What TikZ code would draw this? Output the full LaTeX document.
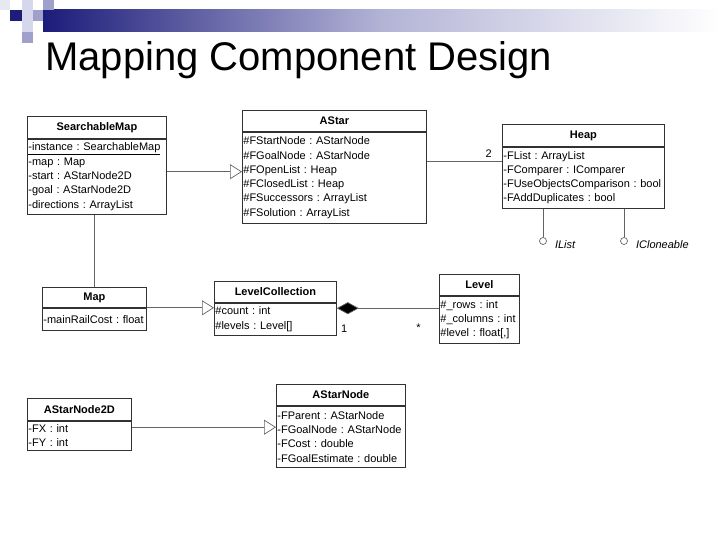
\documentclass[tikz,border=0pt]{standalone}
\usepackage{fontspec}
\setmainfont{Liberation Sans}
\usepackage{tikz}
\usetikzlibrary{arrows.meta,positioning,calc,shapes}
\usepackage{xcolor}
\definecolor{umlline}{RGB}{50,50,50}
\definecolor{umlconn}{RGB}{100,100,100}
\definecolor{headnavy}{RGB}{28,28,122}
\definecolor{headlight}{RGB}{214,214,236}
\definecolor{headmid}{RGB}{160,160,204}
\definecolor{headpale}{RGB}{232,232,240}
\newcommand{\umlfont}{\fontsize{11}{14.3}\selectfont\frenchspacing}

\begin{document}
\begin{tikzpicture}[
    x=1pt, y=-1pt,
    cls/.style={draw=umlline, line width=0.8pt, fill=white, inner sep=0pt,
                minimum height=21, font=\umlfont\bfseries, anchor=north west},
    attrs/.style={draw=umlline, line width=0.8pt, fill=white, inner xsep=1pt,
                  inner ysep=2pt, align=left, font=\umlfont},
    gen/.style={draw=umlconn, line width=0.7pt,
                -{Triangle[open, length=12pt, width=15pt, fill=white]}},
    comp/.style={draw=umlconn, line width=0.7pt,
                 {Diamond[length=22pt, width=12pt, fill=black]}-},
    assoc/.style={draw=umlconn, line width=0.7pt},
    iface/.style={circle, draw=umlconn, line width=0.7pt, fill=white,
                  minimum size=7pt, inner sep=0pt},
    iname/.style={font=\umlfont\itshape, inner sep=0pt},
    mult/.style={font=\umlfont, inner sep=1pt}
]
    \useasboundingbox (0,0) rectangle (720,540);

    % slide header
    \shade[left color=headnavy, right color=white, middle color=headmid!80] (43,10) rectangle (720,32);
    \fill[headpale]  (0,0)   rectangle (10,10);
    \fill[headlight] (22,0)  rectangle (33,10);
    \fill[headmid]   (43,0)  rectangle (54,10);
    \fill[headnavy]  (10,10) rectangle (22,21);
    \fill[headlight] (22,10) rectangle (33,21);
    \fill[headmid]   (33,10) rectangle (43,21);
    \fill[headlight] (22,21) rectangle (33,32);
    \fill[headmid]   (22,32) rectangle (33,43);
    \node[font=\fontsize{40}{48}\selectfont, inner sep=0pt, anchor=base west] (title) at (45,71) {Mapping Component Design};

    % classes
    \node[cls, minimum width=139, minimum height=22] (smap) at (27,116) {SearchableMap};
    \node[attrs, below=0pt of smap, text width=137, minimum height=75] (smap-a)
        {\underline{-instance : SearchableMap}\\-map : Map\\-start : AStarNode2D\\-goal : AStarNode2D\\-directions : ArrayList};

    \node[cls, minimum width=184] (astar) at (242,110) {AStar};
    \node[attrs, below=0pt of astar, text width=182, minimum height=91] (astar-a)
        {\#FStartNode : AStarNode\\\#FGoalNode : AStarNode\\\#FOpenList : Heap\\\#FClosedList : Heap\\\#FSuccessors : ArrayList\\\#FSolution : ArrayList};

    \node[cls, minimum width=162, minimum height=22] (heap) at (502,124) {Heap};
    \node[attrs, below=0pt of heap, text width=160, minimum height=61] (heap-a)
        {-FList : ArrayList\\-FComparer : IComparer\\-FUseObjectsComparison : bool\\-FAddDuplicates : bool};

    \node[cls, minimum width=104, minimum height=20] (map) at (42,287) {Map};
    \node[attrs, below=0pt of map, text width=102, minimum height=22] (map-a)
        {-mainRailCost : float};

    \node[cls, minimum width=122] (lc) at (214,281) {LevelCollection};
    \node[attrs, below=0pt of lc, text width=120, minimum height=32] (lc-a)
        {\#count : int\\\#levels : Level[]};

    \node[cls, minimum width=80] (level) at (439,274) {Level};
    \node[attrs, below=0pt of level, text width=78, minimum height=47] (level-a)
        {\#\_rows : int\\\#\_columns : int\\\#level : float[,]};

    \node[cls, minimum width=104, minimum height=22] (n2d) at (27,398) {AStarNode2D};
    \node[attrs, below=0pt of n2d, text width=102, minimum height=29] (n2d-a)
        {-FX : int\\-FY : int};

    \node[cls, minimum width=129] (anode) at (276,384) {AStarNode};
    \node[attrs, below=0pt of anode, text width=127, minimum height=61] (anode-a)
        {-FParent : AStarNode\\-FGoalNode : AStarNode\\-FCost : double\\-FGoalEstimate : double};

    % interfaces of Heap
    \node[iface] (ilist) at (543,241) {};
    \node[iface] (iclone) at (624,241) {};
    \node[iname, right=8pt of ilist, yshift=-4pt] (ilist-l) {IList};
    \node[iname, right=8pt of iclone, yshift=-4pt] (iclone-l) {ICloneable};

    % connectors
    \draw[gen] ([yshift=5]smap-a.east) -- ([yshift=5]smap-a.east -| astar-a.west);
    \draw[assoc] ([yshift=16.5]astar-a.east) -- ([yshift=16.5]astar-a.east -| heap-a.west)
        node[mult, pos=1, anchor=south east, xshift=-9, yshift=2] {2};
    \draw[assoc] (smap-a.south -| map.north) -- (map.north);
    \draw[gen] (map.south east) -- (map.south east -| lc-a.west);
    \draw[comp] ([yshift=11]lc-a.east) -- ([yshift=11]lc-a.east -| level-a.west)
        node[mult, pos=0, anchor=north west, xshift=3, yshift=-15] {1}
        node[mult, pos=1, anchor=north east, xshift=-17, yshift=-14] {*};
    \draw[gen] ([yshift=8.5]n2d-a.east) -- ([yshift=8.5]n2d-a.east -| anode-a.west);
    \draw[assoc] (heap-a.south -| ilist) -- (ilist);
    \draw[assoc] (heap-a.south -| iclone) -- (iclone);
\end{tikzpicture}
\end{document}
